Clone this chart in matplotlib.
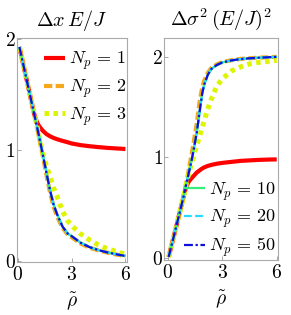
import matplotlib
matplotlib.use("Agg")
import matplotlib.pyplot as plt
from matplotlib.ticker import FixedLocator, FuncFormatter

plt.rcParams['mathtext.fontset'] = 'cm'
plt.rcParams['font.family'] = ['DejaVu Serif']

# ---------------- data: left panel (Delta x E/J) ----------------
rho_l = [0.1, 0.4, 0.7, 0.9, 1.0, 1.1, 1.2, 1.4, 1.6, 1.8, 2.0, 2.2, 2.5, 2.8, 3.0, 3.5, 4.0, 4.5, 5.0, 5.5, 6.0]
dx_np1 = [1.93, 1.71, 1.49, 1.34, 1.285, 1.245, 1.215, 1.175, 1.145, 1.125, 1.11, 1.098, 1.083, 1.07, 1.06, 1.045, 1.035, 1.027, 1.02, 1.015, 1.01]
dx_np2 = [1.93, 1.71, 1.49, 1.34, 1.27, 1.19, 1.11, 0.95, 0.78, 0.62, 0.49, 0.40, 0.30, 0.235, 0.215, 0.158, 0.12, 0.095, 0.075, 0.058, 0.044]
dx_np3 = [1.93, 1.71, 1.49, 1.34, 1.27, 1.20, 1.12, 0.97, 0.86, 0.76, 0.66, 0.58, 0.45, 0.36, 0.32, 0.245, 0.19, 0.145, 0.11, 0.085, 0.06]
dx_np10 = [1.93, 1.71, 1.49, 1.34, 1.27, 1.195, 1.12, 0.96, 0.80, 0.64, 0.51, 0.42, 0.31, 0.245, 0.225, 0.165, 0.125, 0.098, 0.077, 0.06, 0.045]
dx_np20 = dx_np10
dx_np50 = dx_np10

# ---------------- data: right panel (Delta sigma^2 (E/J)^2) ----------------
rho_r = [0.05, 0.3, 0.6, 0.84, 1.0, 1.1, 1.2, 1.3, 1.4, 1.5, 1.6, 1.75, 1.9, 2.0, 2.2, 2.4, 2.7, 3.0, 3.5, 4.0, 4.5, 5.0, 5.5, 6.0]
ds_np1 = [0.01, 0.19, 0.41, 0.586, 0.70, 0.74, 0.77, 0.79, 0.81, 0.83, 0.85, 0.87, 0.89, 0.90, 0.915, 0.925, 0.937, 0.945, 0.955, 0.965, 0.97, 0.975, 0.978, 0.98]
ds_np2 = [0.01, 0.19, 0.41, 0.59, 0.73, 0.82, 0.92, 1.02, 1.12, 1.23, 1.34, 1.55, 1.70, 1.76, 1.84, 1.89, 1.925, 1.948, 1.967, 1.98, 1.987, 1.992, 1.996, 2.0]
ds_np3 = [0.01, 0.19, 0.41, 0.586, 0.72, 0.80, 0.87, 0.93, 0.99, 1.06, 1.12, 1.21, 1.30, 1.36, 1.48, 1.58, 1.71, 1.78, 1.86, 1.90, 1.93, 1.945, 1.955, 1.965]
ds_np10 = [0.01, 0.19, 0.41, 0.586, 0.72, 0.80, 0.88, 0.96, 1.05, 1.15, 1.25, 1.45, 1.64, 1.72, 1.82, 1.88, 1.92, 1.945, 1.965, 1.978, 1.986, 1.992, 1.996, 2.0]
ds_np20 = ds_np10
ds_np50 = ds_np10

labels = [r'$N_p \,=\, 1$', r'$N_p \,=\, 2$', r'$N_p \,=\, 3$',
          r'$N_p \,=\, 10$', r'$N_p \,=\, 20$', r'$N_p \,=\, 50$']
colors = ['#ff0000', '#f5a81c', '#ddf500', '#33ee77', '#22ddff', '#1010dd']
styles = [dict(ls='-', lw=3.0),
          dict(ls=(0, (2.0, 0.8)), lw=3.0),
          dict(ls=(0, (0.9, 0.9)), lw=3.6),
          dict(ls='-', lw=1.6),
          dict(ls=(0, (3.5, 1.5)), lw=1.6),
          dict(ls=(0, (4, 1.2, 1, 1.2)), lw=1.6)]

fig = plt.figure(figsize=(2.91, 3.15), dpi=100)
axL = fig.add_axes([0.058, 0.168, 0.378, 0.711])
axR = fig.add_axes([0.564, 0.175, 0.392, 0.705])

left_series = [dx_np1, dx_np2, dx_np3, dx_np10, dx_np20, dx_np50]
right_series = [ds_np1, ds_np2, ds_np3, ds_np10, ds_np20, ds_np50]

hL, hR = [], []
for i in range(6):
    l, = axL.plot(rho_l, left_series[i], color=colors[i], label=labels[i],
                  solid_capstyle='butt', dash_capstyle='butt', **styles[i])
    r, = axR.plot(rho_r, right_series[i], color=colors[i], label=labels[i],
                  solid_capstyle='butt', dash_capstyle='butt', **styles[i])
    hL.append(l); hR.append(r)

fmt = FuncFormatter(lambda v, p: r'$%d$' % round(v))
for ax in (axL, axR):
    ax.xaxis.set_major_locator(FixedLocator([0, 3, 6]))
    ax.yaxis.set_major_locator(FixedLocator([0, 1, 2]))
    ax.xaxis.set_major_formatter(fmt)
    ax.yaxis.set_major_formatter(fmt)
    ax.tick_params(direction='in', length=3, width=0.6, color='#999999',
                   labelsize=14, pad=1, top=False, right=False)
    ax.tick_params(axis='x', pad=3)
    for s in ax.spines.values():
        s.set_color('#aaaaaa')
        s.set_linewidth(0.8)
    ax.set_xlabel(r'$\tilde{\rho}$', fontsize=14, labelpad=4)

axL.set_xlim(-0.04, 6.08)
axL.set_ylim(-0.01, 2.01)
axR.set_xlim(-0.2, 6.08)
axR.set_ylim(-0.02, 2.19)

axL.set_title(r'$\Delta x\, E/J$', fontsize=14.5, pad=9)
axR.set_title(r'$\Delta\sigma^2\,(E/J)^2$', fontsize=14.5, pad=9)

axL.legend(handles=hL[:3], loc='upper right', bbox_to_anchor=(1.02, 0.955), frameon=False,
           fontsize=13, handlelength=1.15, handletextpad=0.25, labelspacing=0.3,
           borderaxespad=0.0, borderpad=0.1)
axR.legend(handles=hR[3:], loc='lower right', bbox_to_anchor=(1.0, -0.005), frameon=False,
           fontsize=13, handlelength=1.15, handletextpad=0.25, labelspacing=0.3,
           borderaxespad=0.0, borderpad=0.1)

fig.savefig('out.png', dpi=100)
